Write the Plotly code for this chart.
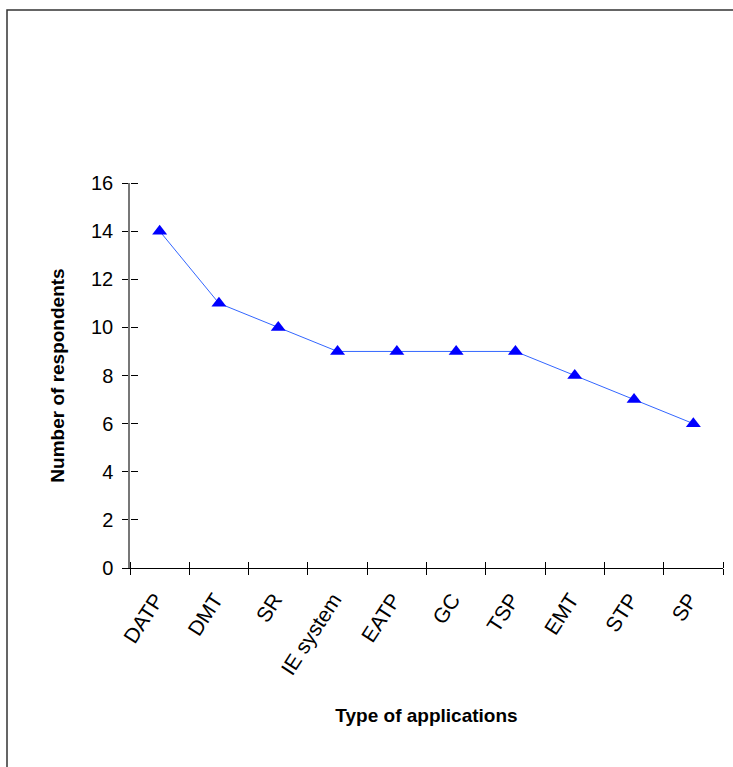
import plotly.graph_objects as go

categories = ["DATP", "DMT", "SR", "IE system", "EATP", "GC", "TSP", "EMT", "STP", "SP"]
respondents = [14, 11, 10, 9, 9, 9, 9, 8, 7, 6]
y_ticks = [0, 2, 4, 6, 8, 10, 12, 14, 16]

W, H = 733, 767
L, R, T, B = 130, 10, 183, 199
pw, ph = W - L - R, H - T - B

fig = go.Figure()
fig.add_trace(go.Scatter(
    x=categories, y=respondents, mode="lines+markers",
    line=dict(color="#3366ff", width=1),
    marker=dict(symbol="triangle-up", size=13, color="#0000ff"),
    showlegend=False, hoverinfo="x+y",
))
# transparent trace holding the overlay axes that give the crossing ticks
fig.add_trace(go.Scatter(
    x=categories, y=respondents, xaxis="x2", yaxis="y2",
    mode="markers", marker=dict(color="rgba(0,0,0,0)", size=1),
    showlegend=False, hoverinfo="skip",
))

font_main = "Liberation Sans, Arial, sans-serif"

fig.update_layout(
    width=W, height=H,
    margin=dict(l=L, r=R, t=T, b=B),
    paper_bgcolor="white", plot_bgcolor="white",
    font=dict(family=font_main, color="#000000"),
    xaxis=dict(
        type="category", categoryorder="array", categoryarray=categories,
        range=[-0.5, len(categories) - 0.5],
        tickson="boundaries", ticks="outside", ticklen=6, tickwidth=1, tickcolor="#000",
        showline=True, linecolor="#000", linewidth=1,
        showgrid=False, zeroline=False,
        tickangle=-57, tickfont=dict(size=21, family=font_main),
        ticklabelstandoff=10, ticklabelshift=-4,
        title=dict(text="<b>Type of applications</b>", font=dict(size=19, family=font_main), standoff=30),
    ),
    xaxis2=dict(
        type="category", categoryorder="array", categoryarray=categories,
        range=[-0.5, len(categories) - 0.5], overlaying="x",
        anchor="free", position=0, side="top",
        tickson="boundaries", ticks="outside", ticklen=6, tickwidth=1, tickcolor="#000",
        showticklabels=False, showline=False, showgrid=False, zeroline=False,
    ),
    yaxis=dict(
        range=[0, 16], tickvals=y_ticks, ticks="outside", ticklen=6, tickwidth=1, tickcolor="#000",
        showline=True, linecolor="#777", linewidth=1.5,
        showgrid=False, zeroline=False,
        tickfont=dict(size=20, family=font_main), ticklabelstandoff=5,
        title=dict(text="<b>Number of respondents</b>", font=dict(size=19, family=font_main), standoff=21),
    ),
    yaxis2=dict(
        range=[0, 16], tickvals=y_ticks, overlaying="y",
        anchor="free", position=0, side="right",
        ticks="outside", ticklen=7, tickwidth=1, tickcolor="#000",
        showticklabels=False, showline=False, showgrid=False, zeroline=False,
    ),
    shapes=[dict(
        type="rect", xref="paper", yref="paper",
        x0=(7 - L) / pw, x1=(W + 20 - L) / pw,
        y0=-(H + 20 - T - ph) / ph, y1=(H - 10 - B) / ph,
        line=dict(color="#333", width=1.5), fillcolor="rgba(0,0,0,0)", layer="below",
    )],
)

fig.write_html("out.html")
